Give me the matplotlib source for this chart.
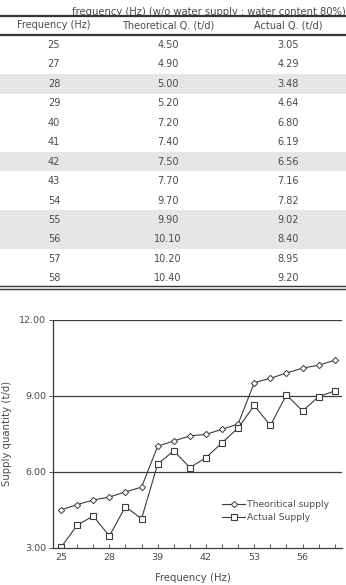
import matplotlib.pyplot as plt
from matplotlib.lines import Line2D
from matplotlib.patches import Rectangle

# table data
table_title = "frequency (Hz) (w/o water supply : water content 80%)"
table_header = ["Frequency (Hz)", "Theoretical Q. (t/d)", "Actual Q. (t/d)"]
table_freq = ["25", "27", "28", "29", "40", "41", "42", "43", "54", "55", "56", "57", "58"]
table_theo = ["4.50", "4.90", "5.00", "5.20", "7.20", "7.40", "7.50", "7.70", "9.70", "9.90", "10.10", "10.20", "10.40"]
table_actual = ["3.05", "4.29", "3.48", "4.64", "6.80", "6.19", "6.56", "7.16", "7.82", "9.02", "8.40", "8.95", "9.20"]
shaded_rows = [2, 6, 9, 10]

# chart data (18 points, categorical x)
x_labels = ["25", "", "", "28", "", "", "39", "", "", "42", "", "", "53", "", "", "56", "", ""]
theo = [4.49, 4.70, 4.88, 5.00, 5.20, 5.39, 7.00, 7.21, 7.41, 7.47, 7.67, 7.88,
        9.51, 9.68, 9.89, 10.08, 10.20, 10.39]
actual = [3.01, 3.89, 4.25, 3.46, 4.62, 4.14, 6.30, 6.82, 6.16, 6.55, 7.14, 7.72,
          8.61, 7.82, 9.03, 8.39, 8.96, 9.18]

W, H = 346, 585
txt = "#4a4a4a"
ink = "#3c3c3c"
font = "DejaVu Sans"

fig = plt.figure(figsize=(W / 100, H / 100), dpi=100)


def fx(px):
    return px / W


def fy(py):
    return 1 - py / H


# ---- table ----
fig.text(fx(346), fy(12), table_title, ha="right", va="center", fontsize=7.2,
         color=txt, family=font)

row_y0, row_dy = 45, 19.44
for i in shaded_rows:
    yc = row_y0 + i * row_dy
    fig.add_artist(Rectangle((0, fy(yc + row_dy / 2)), 1, row_dy / H,
                             transform=fig.transFigure, facecolor="#e6e6e6",
                             edgecolor="none", zorder=0))

for y, lw in [(15.5, 1.6), (35, 1.6), (286, 1.0), (288.5, 1.0)]:
    fig.add_artist(Line2D([0, 1], [fy(y), fy(y)], transform=fig.transFigure,
                          color="#333333", lw=lw))

col_x = [54, 168, 288]
for cx, h in zip(col_x, table_header):
    fig.text(fx(cx), fy(25), h, ha="center", va="center", fontsize=7,
             color=txt, family=font)

for i, row in enumerate(zip(table_freq, table_theo, table_actual)):
    yc = row_y0 + i * row_dy
    for cx, v in zip(col_x, row):
        fig.text(fx(cx), fy(yc), v, ha="center", va="center", fontsize=7,
                 color=txt, family=font)

# ---- chart ----
ax = fig.add_axes([fx(53), fy(547.7), fx(342 - 53), (547.7 - 319.5) / H])
idx = list(range(len(theo)))
ax.plot(idx, theo, color=ink, lw=0.8, marker="D", ms=3.2, mfc="white",
        mec=ink, mew=0.7, label="Theoritical supply")
ax.plot(idx, actual, color=ink, lw=0.8, marker="s", ms=5, mfc="white",
        mec=ink, mew=0.8, label="Actual Supply")

ax.set_xlim(-0.5, 17.45)
ax.set_ylim(3, 12)
ax.set_yticks([3, 6, 9, 12])
ax.set_yticklabels(["3.00", "6.00", "9.00", "12.00"])
ax.set_xticks(idx)
ax.set_xticklabels(x_labels)
ax.tick_params(axis="x", direction="in", length=3, width=0.6, color=ink,
               labelsize=6.8, labelcolor=txt, pad=4)
ax.tick_params(axis="y", direction="out", length=3, width=0.6, color=ink,
               labelsize=6.8, labelcolor=txt, pad=2)
for v in [6, 9, 12]:
    ax.axhline(v, color=ink, lw=0.9, zorder=0)

for s in ["top", "right"]:
    ax.spines[s].set_visible(False)
for s in ["left", "bottom"]:
    ax.spines[s].set_color(ink)
    ax.spines[s].set_linewidth(0.9)

ax.set_ylabel("Supply quantity (t/d)", fontsize=7.3, color=txt, labelpad=4)
ax.yaxis.set_label_coords(-0.142, 0.5)
ax.set_xlabel("Frequency (Hz)", fontsize=7.3, color=txt)
ax.xaxis.set_label_coords(0.485, -0.11)

leg = ax.legend(loc="upper left", bbox_to_anchor=(0.585, 0.21), frameon=False,
                fontsize=6.6, handlelength=2.5, handletextpad=0.2,
                labelspacing=0.5, borderaxespad=0, borderpad=0)
for t in leg.get_texts():
    t.set_color(txt)

fig.savefig("out.png", dpi=100)
